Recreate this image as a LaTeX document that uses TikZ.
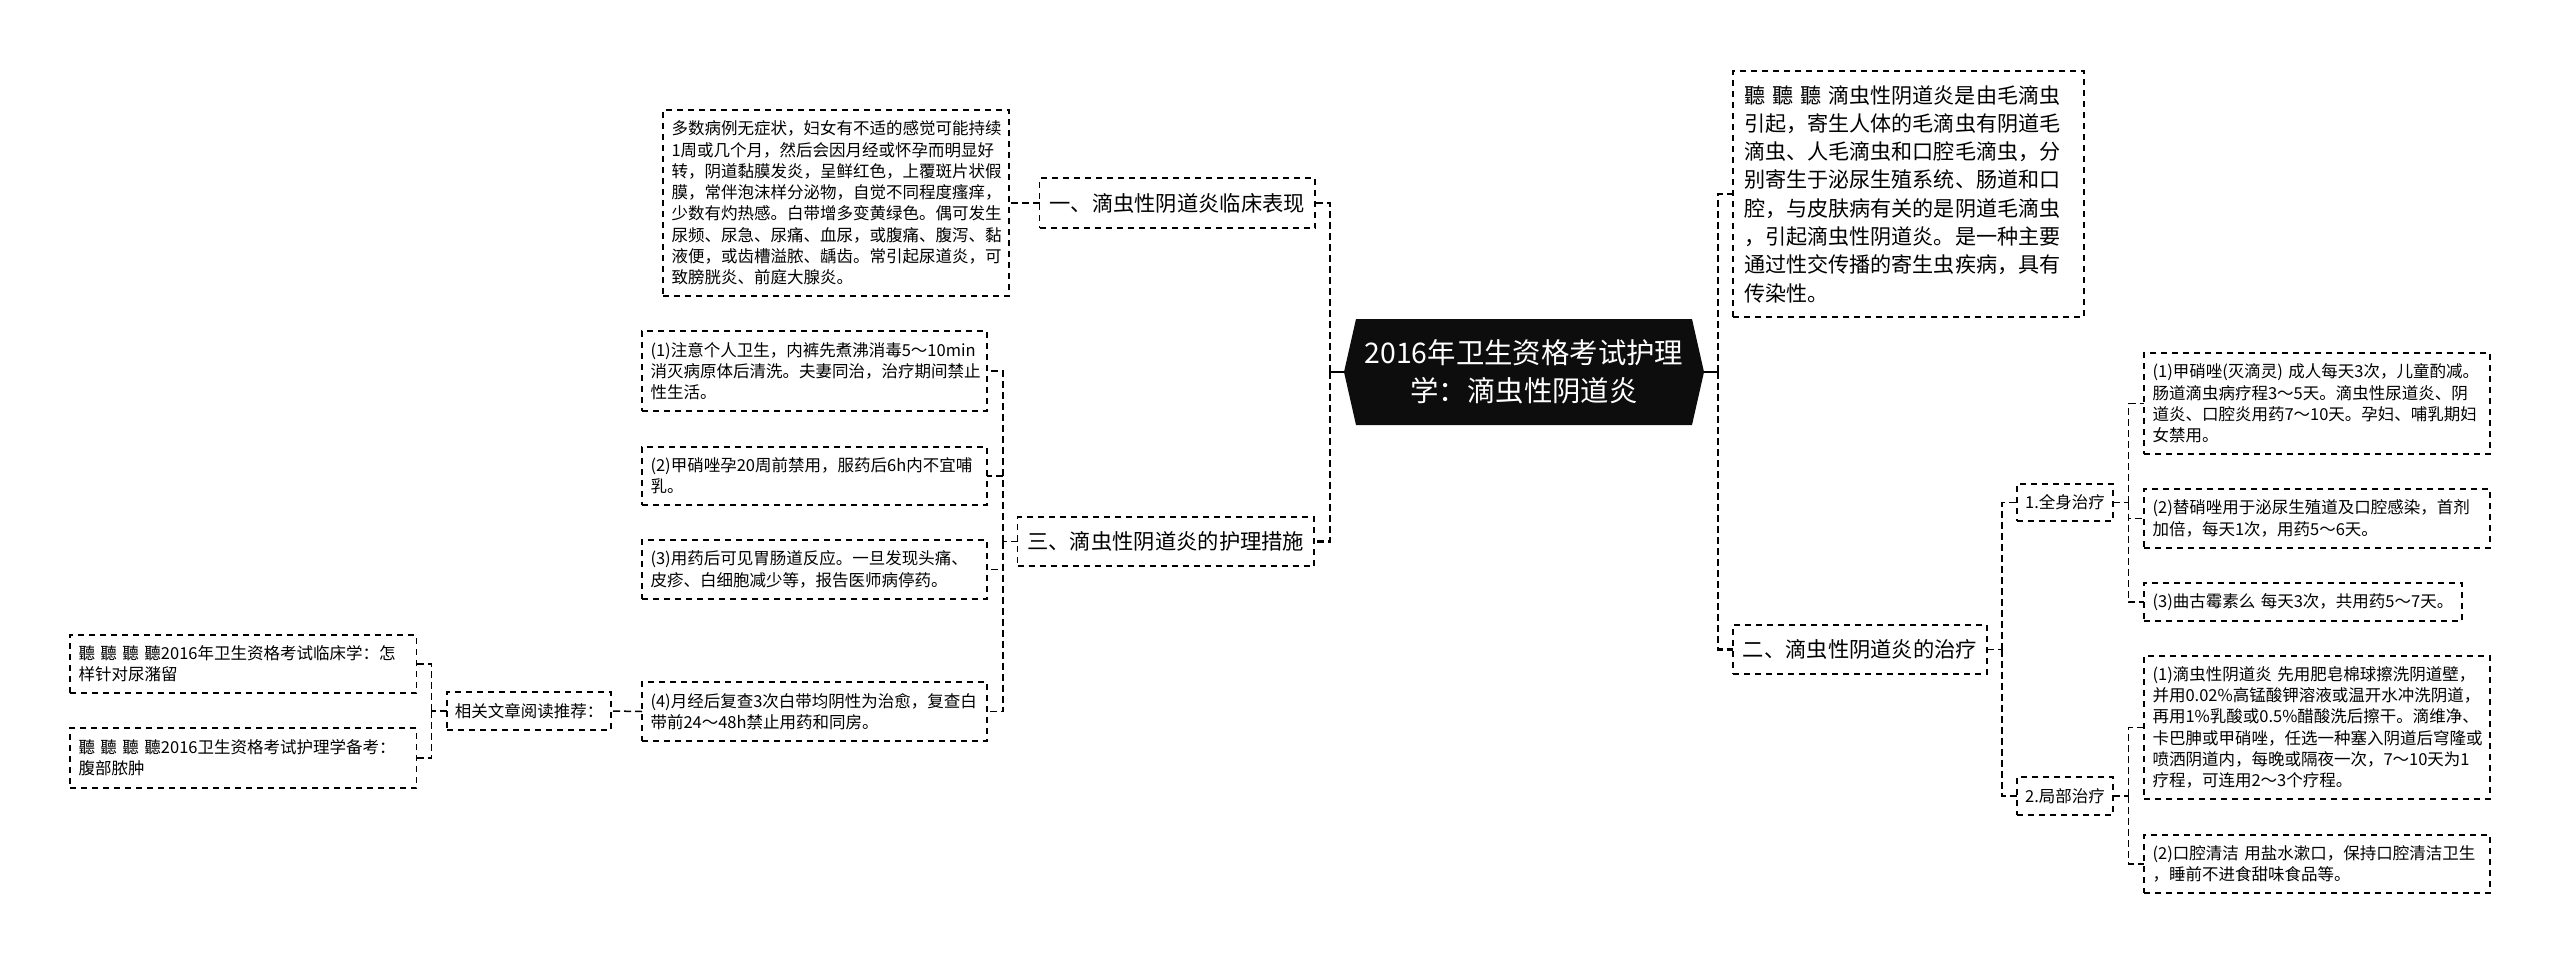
\documentclass[tikz,border=0pt]{standalone}
\usepackage{fontspec}
\setmainfont{Noto Sans CJK SC}
\tikzset{
  dashbox/.style={draw=black, line width=1.5pt, dash pattern=on 6pt off 5pt, outer sep=0pt, inner ysep=0pt},
  note/.style={dashbox, anchor=north west, align=left, inner xsep=8.5pt, font=\fontsize{16.5}{21.3}\selectfont},
  bignote/.style={note, inner xsep=11pt, font=\fontsize{21.1}{28.3}\selectfont},
  branch/.style={dashbox, font=\fontsize{21.3}{28}\selectfont},
  subbranch/.style={dashbox, font=\fontsize{16.5}{21.3}\selectfont},
  trunkline/.style={line width=2.7pt, dash pattern=on 7pt off 4pt},
  twig/.style={line width=1.5pt, dash pattern=on 7pt off 4pt},
}
\begin{document}
\begin{tikzpicture}[x=1pt, y=-1pt]
\useasboundingbox (0,0) rectangle (2560,964);

% Root hexagon
\fill[black!95] (1344,372) -- (1356,319) -- (1692,319) -- (1704,372) -- (1692,425) -- (1356,425) -- cycle;
\node (root) [minimum width=360pt, minimum height=106pt, outer sep=0pt, inner sep=0pt, align=center, text=white, font=\fontsize{28.4}{38}\selectfont] at (1524,372) {2016年卫生资格考试护理\\学：滴虫性阴道炎};

% Branches
\node (clinic) [branch, minimum width=275.5pt, minimum height=50pt] at (1177.25,203) {一、滴虫性阴道炎临床表现};
\node (care) [branch, minimum width=296.5pt, minimum height=49pt] at (1165.75,541.5) {三、滴虫性阴道炎的护理措施};
\node (cure) [branch, minimum width=254pt, minimum height=49pt] at (1860,649.5) {二、滴虫性阴道炎的治疗};
\node (whole) [subbranch, minimum width=96pt, minimum height=37pt] at (2065,502.5) {1.全身治疗};
\node (local) [subbranch, minimum width=96pt, minimum height=38pt] at (2065,796) {2.局部治疗};
\node (related) [subbranch, minimum width=164pt, minimum height=38pt] at (529,711) {相关文章阅读推荐：};

% Left notes
\node (clinicnote) [note, text width=329pt, minimum height=186pt] at (663,110) {多数病例无症状，妇女有不适的感觉可能持续\\1周或几个月，然后会因月经或怀孕而明显好\\转，阴道黏膜发炎，呈鲜红色，上覆斑片状假\\膜，常伴泡沫样分泌物，自觉不同程度瘙痒，\\少数有灼热感。白带增多变黄绿色。偶可发生\\尿频、尿急、尿痛、血尿，或腹痛、腹泻、黏\\液便，或齿槽溢脓、龋齿。常引起尿道炎，可\\致膀胱炎、前庭大腺炎。};
\node (careone) [note, text width=328pt, minimum height=80pt] at (642,331) {(1)注意个人卫生，内裤先煮沸消毒5～10min\\消灭病原体后清洗。夫妻同治，治疗期间禁止\\性生活。};
\node (caretwo) [note, text width=328pt, minimum height=58pt] at (642,447) {(2)甲硝唑孕20周前禁用，服药后6h内不宜哺\\乳。};
\node (carethree) [note, text width=328pt, minimum height=59pt] at (642,540) {(3)用药后可见胃肠道反应。一旦发现头痛、\\皮疹、白细胞减少等，报告医师病停药。};
\node (carefour) [note, text width=328pt, minimum height=59pt] at (642,682) {(4)月经后复查3次白带均阴性为治愈，复查白\\带前24～48h禁止用药和同房。};
\node (readone) [note, text width=329.6pt, minimum height=58pt] at (70,635) {聽 聽 聽 聽2016年卫生资格考试临床学：怎\\样针对尿潴留};
\node (readtwo) [note, text width=329.6pt, minimum height=60pt] at (70,728) {聽 聽 聽 聽2016卫生资格考试护理学备考：\\腹部脓肿};

% Right notes
\node (intro) [bignote, text width=329pt, minimum height=246pt] at (1733,71) {聽 聽 聽 滴虫性阴道炎是由毛滴虫\\引起，寄生人体的毛滴虫有阴道毛\\滴虫、人毛滴虫和口腔毛滴虫，分\\别寄生于泌尿生殖系统、肠道和口\\腔，与皮肤病有关的是阴道毛滴虫\\，引起滴虫性阴道炎。是一种主要\\通过性交传播的寄生虫疾病，具有\\传染性。};
\node (wholeone) [note, text width=329pt, minimum height=101pt] at (2144,353) {(1)甲硝唑(灭滴灵) 成人每天3次，儿童酌减。\\肠道滴虫病疗程3～5天。滴虫性尿道炎、阴\\道炎、口腔炎用药7～10天。孕妇、哺乳期妇\\女禁用。};
\node (wholetwo) [note, text width=329pt, minimum height=59pt] at (2144,489) {(2)替硝唑用于泌尿生殖道及口腔感染，首剂\\加倍，每天1次，用药5～6天。};
\node (wholethree) [note, text width=301pt, minimum height=38pt] at (2144,583) {(3)曲古霉素么 每天3次，共用药5～7天。};
\node (localone) [note, text width=329pt, minimum height=143pt] at (2144,656) {(1)滴虫性阴道炎 先用肥皂棉球擦洗阴道壁，\\并用0.02\%高锰酸钾溶液或温开水冲洗阴道，\\再用1\%乳酸或0.5\%醋酸洗后擦干。滴维净、\\卡巴胂或甲硝唑，任选一种塞入阴道后穹隆或\\喷洒阴道内，每晚或隔夜一次，7～10天为1\\疗程，可连用2～3个疗程。};
\node (localtwo) [note, text width=329pt, minimum height=58pt] at (2144,835) {(2)口腔清洁 用盐水漱口，保持口腔清洁卫生\\，睡前不进食甜味食品等。};

% Spines
\coordinate (spineL) at (1330,372);
\coordinate (spineR) at (1718,372);
\coordinate (spineCare) at (1003,541.5);
\coordinate (spineRead) at (431.5,711);
\coordinate (spineCure) at (2002,649.5);
\coordinate (spineWhole) at (2128.5,502.5);
\coordinate (spineLocal) at (2128.5,796);

\draw[line width=2.7pt] (root.west) -- (spineL);
\draw[line width=2.7pt] (root.east) -- (spineR);
\draw[trunkline] (spineL) |- (clinic.east);
\draw[trunkline] (spineL) |- (care.east);
\draw[trunkline] (spineR) |- (intro.west);
\draw[trunkline] (spineR) |- (cure.west);
\draw[twig] (clinic.west) -- (clinicnote.east);
\draw[twig] (care.west) -- (spineCare);
\draw[twig] (spineCare) |- (careone.east);
\draw[twig] (spineCare) |- (caretwo.east);
\draw[twig] (spineCare) |- (carethree.east);
\draw[twig] (spineCare) |- (carefour.east);
\draw[twig] (carefour.west) -- (related.east);
\draw[twig] (related.west) -- (spineRead);
\draw[twig] (spineRead) |- (readone.east);
\draw[twig] (spineRead) |- (readtwo.east);
\draw[twig] (cure.east) -- (spineCure);
\draw[twig] (spineCure) |- (whole.west);
\draw[twig] (spineCure) |- (local.west);
\draw[twig] (whole.east) -- (spineWhole);
\draw[twig] (spineWhole) |- (wholeone.west);
\draw[twig] (spineWhole) |- (wholetwo.west);
\draw[twig] (spineWhole) |- (wholethree.west);
\draw[twig] (local.east) -- (spineLocal);
\draw[twig] (spineLocal) |- (localone.west);
\draw[twig] (spineLocal) |- (localtwo.west);
\end{tikzpicture}
\end{document}
